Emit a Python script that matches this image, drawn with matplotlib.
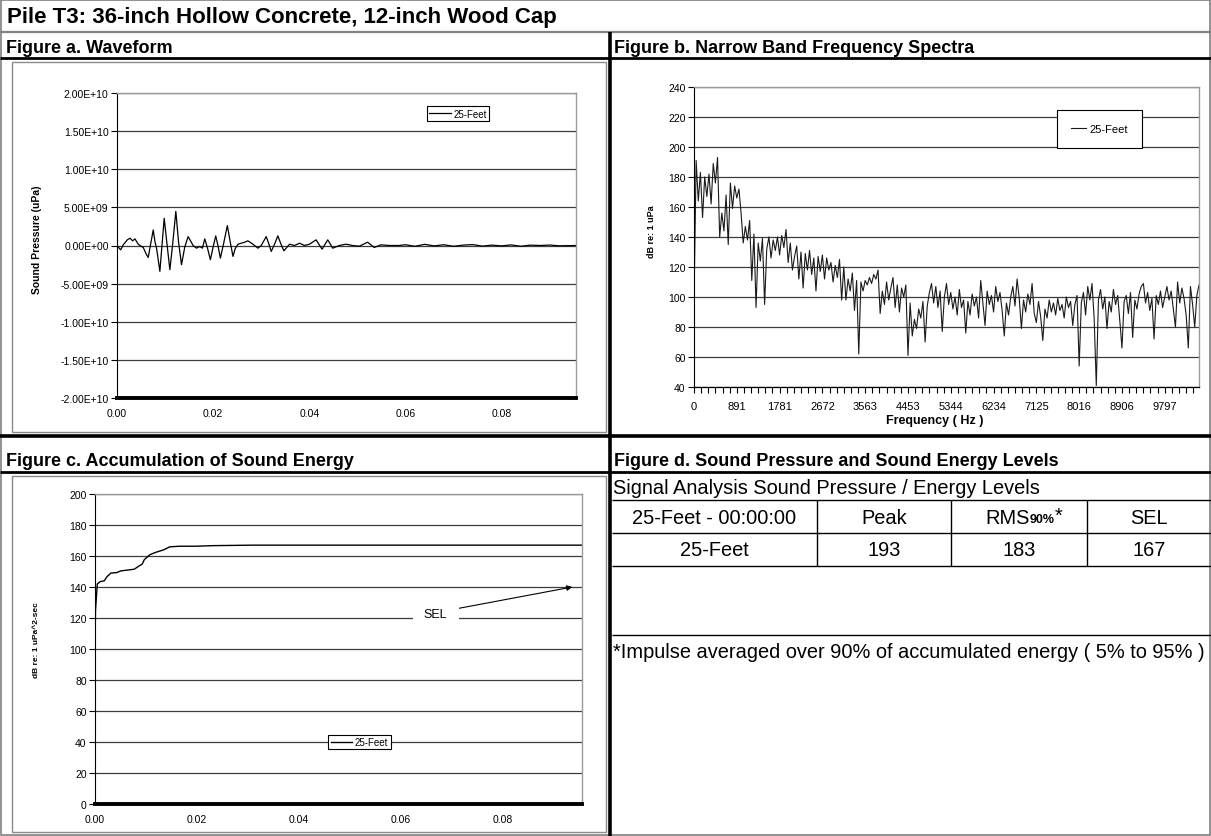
import numpy as np
import matplotlib.pyplot as plt
from matplotlib.patches import Rectangle
from matplotlib.ticker import FixedLocator, FuncFormatter, MultipleLocator

plt.rcParams['font.family'] = 'Liberation Sans'

W, H = 1211, 837

title = 'Pile T3: 36-inch Hollow Concrete, 12-inch Wood Cap'
series_name = '25-Feet'

# Figure a: waveform (time in ms, pressure in 1e9 uPa)
wave_ms = [0.0, 0.76, 1.31, 2.14, 2.70, 3.25, 3.73, 4.43, 4.77, 5.46, 6.15, 6.50,
           7.0, 7.54, 7.9, 8.23, 8.92, 9.37, 9.82, 10.4, 11.0, 11.6, 12.24, 12.8,
           13.42, 14.1, 14.8, 15.84, 16.53, 17.22, 17.77, 18.26, 18.85, 19.43,
           20.0, 20.54, 21.0, 21.51, 22.2, 22.96, 23.55, 24.13, 24.6, 25.17,
           26.55, 27.24, 28.28, 29.32, 30.01, 31.05, 31.6, 32.09, 32.8, 33.47,
           34.1, 34.72, 35.89, 36.93, 37.97, 39.0, 40.04, 41.42, 42.67, 43.85,
           44.88, 46.27, 47.65, 49.03, 50.41, 52.14, 53.53, 54.91, 56.64, 58.71,
           60.0, 62.0, 64.0, 66.0, 68.0, 70.0, 72.0, 74.0, 76.0, 78.0, 80.0,
           82.0, 84.0, 86.0, 88.0, 90.0, 92.0, 95.5]
wave_gpa = [0.0, -0.57, 0.1, 0.74, 0.96, 0.61, 0.87, 0.17, 0.0, -0.26, -1.22, -1.57,
            0.2, 2.04, 0.5, -0.35, -3.39, 0.1, 3.57, 0.2, -3.17, 0.3, 4.47, 0.5,
            -2.52, -0.2, 1.17, 0.0, -0.35, -0.13, -0.35, 0.87, -0.4, -1.87,
            -0.2, 1.26, 0.0, -1.65, 0.3, 2.61, 0.5, -1.43, -0.4, 0.17,
            0.43, 0.61, 0.17, -0.35, 0.0, 1.17, 0.2, -0.78, 0.2, 1.26,
            0.2, -0.70, 0.17, 0.0, 0.3, 0.0, 0.17, 0.74, -0.48, 0.74,
            -0.35, 0.0, 0.17, 0.0, -0.09, 0.43, -0.26, 0.09, 0.0, 0.0,
            0.1, -0.1, 0.15, -0.05, 0.1, -0.1, 0.05, 0.12, -0.08, 0.05, -0.05,
            0.08, -0.1, 0.05, 0.0, 0.06, -0.04, 0.0]

# Figure b: narrow band spectrum, one level per frequency bin
spec_step_hz = 44.53125
spec_db = [
    96, 191, 164, 183, 153, 180, 167, 182, 162, 189,
    176, 193, 140, 156, 144, 168, 135, 176, 159, 174,
    166, 172, 156, 136, 147, 138, 151, 111, 142, 93,
    136, 124, 139, 95, 132, 140, 126, 138, 131, 140,
    128, 141, 133, 145, 123, 136, 118, 127, 134, 112,
    130, 106, 129, 118, 131, 115, 126, 104, 127, 117,
    128, 112, 126, 118, 123, 110, 121, 113, 125, 98,
    120, 98, 112, 104, 116, 91, 111, 62,
    110, 104, 111, 108, 113, 109, 115, 112, 118, 89,
    104, 95, 110, 98, 106, 113, 93, 108, 90, 106,
    100, 108, 61, 96, 74, 85, 79, 92, 86, 97,
    70, 94, 103, 109, 96, 107, 93, 104, 77, 100,
    109, 95, 103, 92, 100, 88, 105, 93, 98, 76,
    97, 88, 102, 94, 100, 86, 111, 96, 81, 104,
    95, 101, 90, 107, 97, 103, 91, 74, 96, 88,
    100, 107, 94, 112, 99, 79, 98, 90, 102, 95,
    109, 89, 83, 97, 87, 71, 92, 86, 98, 90,
    96, 88, 99, 91, 95, 86, 100, 93, 97, 81,
    95, 101, 54, 96, 103, 88, 107, 98, 109, 86,
    41, 98, 105, 92, 100, 79, 97, 90, 105, 95,
    101, 84, 66, 97, 101, 89, 103, 73, 98, 92,
    102, 107, 109, 96, 103, 91, 99, 72, 101, 95,
    104, 93, 100, 107, 98, 104, 92, 80, 110, 96,
    106, 99, 88, 66, 107, 95, 80, 101, 108,
]
freq_label_step = 890.625
freq_labels = ['0', '891', '1781', '2672', '3563', '4453', '5344', '6234',
               '7125', '8016', '8906', '9797']

# Figure c: accumulated sound exposure level (time in ms, dB)
sel_ms = [0.0, 0.1, 0.45, 1.06, 1.83, 2.36, 3.13, 4.28, 5.05, 6.58, 7.73, 8.5,
          9.27, 9.66, 10.8, 11.95, 13.5, 14.63, 16.55, 19.62, 23.45, 31.12,
          46.45, 95.5]
sel_curve_db = [105, 125, 142, 143.5, 144, 146.7, 149, 149.3, 150.4, 151, 151.5,
                153.3, 154.8, 157.6, 160.9, 162.4, 164, 165.9, 166.3, 166.3,
                166.7, 167, 167, 167]

# Figure d: summary levels
table_caption = 'Signal Analysis Sound Pressure / Energy Levels'
table_head = ['25-Feet - 00:00:00', 'Peak', 'RMS', 'SEL']
table_row = ['25-Feet', 193, 183, 167]
footnote = '*Impulse averaged over 90% of accumulated energy ( 5% to 95% )'

fig = plt.figure(figsize=(W / 100, H / 100), dpi=100)
bg = fig.add_axes([0, 0, 1, 1], zorder=0)
bg.set_xlim(0, W)
bg.set_ylim(H, 0)
bg.axis('off')


def px_axes(x0, y0, x1, y1):
    return fig.add_axes([x0 / W, 1 - y1 / H, (x1 - x0) / W, (y1 - y0) / H], zorder=2)


def style_axes(ax, thick_bottom=True):
    ax.set_facecolor('white')
    for side in ('top', 'right'):
        ax.spines[side].set_color('#9a9a9a')
        ax.spines[side].set_linewidth(1.0)
    ax.spines['left'].set_color('black')
    ax.spines['left'].set_linewidth(0.8)
    ax.spines['bottom'].set_color('black')
    ax.spines['bottom'].set_linewidth(2.8 if thick_bottom else 0.9)
    ax.grid(axis='y', color='#3c3c3c', lw=0.9)
    ax.set_axisbelow(True)
    ax.tick_params(axis='y', direction='out', length=4, width=0.8, labelsize=7.5, pad=2)


def small_legend(ax, center, size, pad, hlen):
    leg = ax.legend(loc='center', bbox_to_anchor=(center[0] / W, 1 - center[1] / H),
                    bbox_transform=fig.transFigure, fancybox=False, edgecolor='black',
                    framealpha=1, fontsize=size, borderpad=pad, handlelength=hlen,
                    handletextpad=0.3, borderaxespad=0)
    leg.get_frame().set_linewidth(0.8)


# page frame and section rules
bg.add_patch(Rectangle((1, 1), W - 2, H - 2, fill=False, ec='#7f7f7f', lw=1.2))
bg.hlines(33, 0, W, color='#7f7f7f', lw=1.6)
bg.hlines([59, 473], 0, W, color='black', lw=2.0)
bg.hlines(437, 0, W, color='black', lw=2.6)
bg.vlines(610, 33, H, color='black', lw=2.6)

bg.text(7, 17, title, fontsize=16, weight='bold', va='center', ha='left')
bg.text(6, 48, 'Figure a. Waveform', fontsize=13, weight='bold', va='center')
bg.text(614, 48, 'Figure b. Narrow Band Frequency Spectra', fontsize=13, weight='bold', va='center')
bg.text(6, 461, 'Figure c. Accumulation of Sound Energy', fontsize=13, weight='bold', va='center')
bg.text(614, 461, 'Figure d. Sound Pressure and Sound Energy Levels', fontsize=13, weight='bold', va='center')

# chart area boxes for a and c
bg.add_patch(Rectangle((12, 63), 594, 370, fill=False, ec='#8a8a8a', lw=1.0))
bg.add_patch(Rectangle((12, 477), 594, 356, fill=False, ec='#8a8a8a', lw=1.0))

# Figure a
ax_a = px_axes(117, 94, 576, 399)
style_axes(ax_a)
ax_a.plot(np.array(wave_ms) / 1000, np.array(wave_gpa) * 1e9, color='black', lw=0.9,
          label=series_name)
ax_a.set_xlim(0, 0.0955)
ax_a.set_ylim(-2e10, 2e10)
ax_a.yaxis.set_major_locator(FixedLocator(np.arange(-2e10, 2.01e10, 5e9)))
ax_a.yaxis.set_major_formatter(FuncFormatter(lambda v, p: f'{v:.2E}'))
ax_a.xaxis.set_major_locator(MultipleLocator(0.02))
ax_a.xaxis.set_major_formatter(FuncFormatter(lambda v, p: f'{v:.2f}'))
ax_a.tick_params(axis='x', length=0, labelsize=7.5, pad=7)
small_legend(ax_a, (458, 114.5), 7, 0.25, 2.2)
bg.text(37, 240, 'Sound Pressure (uPa)', rotation=90, fontsize=7.5, weight='bold',
        ha='center', va='center')

# Figure b
ax_b = px_axes(694, 88, 1199, 388)
style_axes(ax_b, thick_bottom=False)
spec_freq = np.arange(len(spec_db)) * spec_step_hz
ax_b.plot(spec_freq, spec_db, color='#1a1a1a', lw=0.8, label=series_name)
ax_b.set_xlim(0, spec_freq[-1])
ax_b.set_ylim(40, 240)
ax_b.yaxis.set_major_locator(MultipleLocator(20))
ax_b.xaxis.set_major_locator(FixedLocator(np.arange(len(freq_labels)) * freq_label_step))
ax_b.set_xticklabels(freq_labels)
ax_b.xaxis.set_minor_locator(MultipleLocator(freq_label_step / 6))
ax_b.tick_params(axis='x', which='both', direction='out', length=4, width=0.8,
                 labelsize=8, pad=6)
small_legend(ax_b, (1099.5, 130), 8, 1.3, 1.3)
bg.text(935, 421, 'Frequency ( Hz )', fontsize=9, weight='bold', ha='center', va='center')
bg.text(651, 232, 'dB re: 1 uPa', rotation=90, fontsize=6.5, weight='bold',
        ha='center', va='center')

# Figure c
ax_c = px_axes(95, 495, 582, 805)
style_axes(ax_c)
ax_c.plot(np.array(sel_ms) / 1000, sel_curve_db, color='black', lw=1.0, label=series_name)
ax_c.set_xlim(0, 0.0955)
ax_c.set_ylim(0, 200)
ax_c.yaxis.set_major_locator(MultipleLocator(20))
ax_c.xaxis.set_major_locator(MultipleLocator(0.02))
ax_c.xaxis.set_major_formatter(FuncFormatter(lambda v, p: f'{v:.2f}'))
ax_c.tick_params(axis='x', length=0, labelsize=7.5, pad=7)
ax_c.annotate('SEL', xy=(0.0936, 140), xytext=(0.0668, 122.5), fontsize=9,
              ha='center', va='center',
              bbox=dict(boxstyle='square,pad=0.9', fc='white', ec='none'),
              arrowprops=dict(arrowstyle='-|>', color='black', lw=0.8,
                              mutation_scale=8, relpos=(0.85, 0.75), shrinkA=0, shrinkB=0))
small_legend(ax_c, (359.5, 743), 7, 0.25, 2.2)
bg.text(36, 640, 'dB re: 1 uPa^2-sec', rotation=90, fontsize=6, weight='bold',
        ha='center', va='center')

# Figure d: table of levels
cell_font = 14.4
bg.text(613, 488, table_caption, fontsize=cell_font, va='center', ha='left')
bg.hlines([501, 534, 567], 612, W, color='black', lw=1.0)
bg.vlines([817, 951, 1087], 501, 567, color='black', lw=1.0)
col_centers = [714, 884, 1019, 1149]
for i, label in enumerate(table_head):
    if label == 'RMS':
        t1 = bg.text(985, 518, 'RMS', fontsize=cell_font, ha='left', va='center')
        t2 = bg.annotate('90%', xy=(1, 0.08), xycoords=t1, fontsize=9, weight='bold',
                         ha='left', va='bottom')
        bg.annotate('*', xy=(1, 0), xycoords=t2, fontsize=cell_font, ha='left', va='bottom')
    else:
        bg.text(col_centers[i], 518, label, fontsize=cell_font, ha='center', va='center')
for i, value in enumerate(table_row):
    bg.text(col_centers[i], 551, str(value), fontsize=cell_font, ha='center', va='center')
bg.hlines(636, 612, W, color='black', lw=1.0)
bg.text(613, 652, footnote, fontsize=cell_font, va='center', ha='left')

fig.savefig('out.png', dpi=100)
